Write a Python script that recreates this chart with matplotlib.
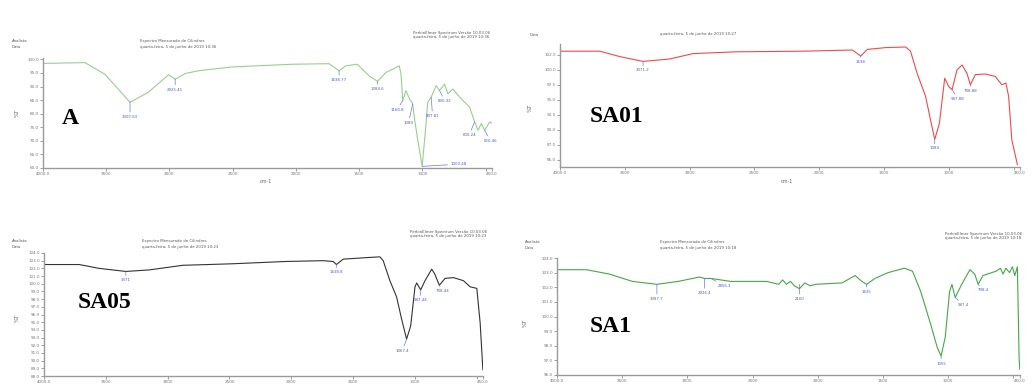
import matplotlib
matplotlib.use("Agg")
import matplotlib.pyplot as plt

W, H = 1032, 385

# ---------- data ----------
# panel A
a_wn = [4000, 3669, 3510, 3312, 3167, 3008, 2955, 2875, 2770, 2508, 2032, 1738, 1659,
        1606, 1516, 1476, 1421, 1355, 1288, 1183, 1169, 1156, 1130, 1103, 1077, 1063,
        1037, 1002, 976, 958, 931, 891, 865, 825, 799, 759, 706, 627, 587, 561, 534,
        508, 468, 450]
a_t = [98.5, 98.8, 94.5, 84.2, 87.9, 94.3, 92.7, 94.8, 95.8, 97.2, 98.2, 98.4, 95.8,
       97.6, 98.2, 96.4, 93.9, 91.9, 95.2, 97.6, 94.5, 84.8, 88.5, 85.5, 83.6, 78.2,
       70.3, 60.6, 73.9, 84.2, 86.1, 90.3, 88.5, 90.9, 87.3, 89.1, 86.1, 82.4, 77.0,
       73.9, 76.4, 73.9, 77.0, 76.5]
a_peaks = [(3312, 84.2, "3307.63", 0, -9), (2955, 92.7, "2925.41", 0, -6),
           (1659, 95.8, "1638.77", 0, -5), (1355, 91.9, "1384.6", 0, -4),
           (1156, 84.8, "1160.8", -4, -5), (1077, 83.6, "1080", -3, -12),
           (931, 86.1, "897.81", 1, -12), (865, 88.5, "830.32", 4, -6),
           (1002, 60.6, "1000.48", 26, 3), (587, 77.0, "600.24", -4, -8),
           (508, 73.9, "520.46", 4, -6)]

# panel SA01
s01_wn = [4000, 3692, 3538, 3359, 3154, 2974, 2641, 2128, 1744, 1679, 1628, 1487,
          1333, 1295, 1244, 1179, 1141, 1108, 1072, 1031, 1000, 974, 936, 897, 859,
          833, 795, 718, 641, 590, 559, 538, 513, 470]
s01_t = [103.1, 103.1, 102.2, 101.4, 101.8, 102.7, 103.0, 103.1, 103.3, 102.3, 103.4,
         103.7, 103.8, 103.1, 99.4, 95.6, 91.7, 88.4, 91.1, 98.6, 97.2, 96.7, 100.0,
         100.8, 99.4, 97.5, 99.2, 99.3, 98.9, 97.5, 97.8, 95.6, 88.3, 84.2]
s01_peaks = [(3359, 101.4, "3371.2", 0, -5), (1679, 102.3, "1638", 0, -3),
             (1108, 88.4, "1084", 0, -5), (974, 96.7, "947.88", 4, -5),
             (833, 97.5, "798.88", 0, -3)]

# panel SA05
s05_wn = [4000, 3716, 3554, 3338, 3149, 2878, 2473, 2041, 1743, 1662, 1635, 1581,
          1392, 1284, 1257, 1203, 1149, 1108, 1068, 1035, 1000, 986, 954, 919, 865,
          841, 803, 757, 689, 608, 554, 500, 473, 451]
s05_t = [102.5, 102.5, 102.0, 101.6, 101.8, 102.4, 102.6, 102.9, 103.0, 102.9, 102.5,
         103.2, 103.4, 103.5, 103.0, 100.4, 98.3, 95.4, 92.8, 94.5, 99.6, 100.1, 99.2,
         100.4, 101.9, 101.3, 99.8, 100.7, 100.8, 100.4, 99.6, 99.4, 94.9, 88.8]
s05_peaks = [(3338, 101.6, "3371", 0, -5), (1635, 102.5, "1638.8", 0, -4),
             (1068, 92.8, "1067.4", -3, -7), (954, 99.2, "947.44", 0, -6),
             (803, 99.8, "798.44", 2, -3)]

# panel SA1
s1_wn = [4000, 3962, 3774, 3598, 3422, 3234, 3070, 2907, 2869, 2819, 2668, 2392, 2300,
         2270, 2241, 2210, 2180, 2141, 2100, 2060, 2015, 1814, 1714, 1663, 1626, 1563,
         1462, 1337, 1274, 1211, 1136, 1085, 1055, 1023, 990, 972, 947, 897, 834, 797,
         771, 734, 633, 600, 580, 558, 530, 508, 490, 470, 457, 452]
s1_t = [103.2, 103.2, 103.2, 102.9, 102.4, 102.2, 102.4, 102.7, 102.6, 102.6, 102.4,
        102.4, 102.2, 102.5, 102.2, 102.4, 102.1, 101.9, 102.3, 102.1, 102.2, 102.3,
        102.8, 102.4, 102.2, 102.6, 103.0, 103.3, 103.1, 101.7, 99.5, 97.9, 97.3, 98.6,
        101.7, 102.2, 101.3, 102.2, 103.2, 102.9, 102.2, 102.8, 103.1, 103.3, 102.9,
        103.3, 103.0, 103.4, 102.8, 103.4, 97.2, 96.4]
s1_peaks = [(3234, 102.2, "3387.7", 0, -9), (2869, 102.6, "2926.4", 0, -9),
            (2819, 102.6, "2856.3", 10, -4), (2141, 102.2, "2160", 0, -9),
            (1626, 102.2, "1635", 0, -4), (1055, 97.3, "1055", 0, -4),
            (947, 101.3, "947.4", 6, -4), (771, 102.2, "798.4", 4, -3)]

x_ticks = [4000, 3500, 3000, 2500, 2000, 1500, 1000, 500, 450]
x_labels = ["4000.0", "3500", "3000", "2500", "2000", "1500", "1000", "", "450.0"]

fig = plt.figure(figsize=(W / 100, H / 100), dpi=100)
fig.patch.set_facecolor("white")


def fx(x):
    return x / W


def fy(y):
    return 1 - y / H


def panel(box, wn, t, color, ylim, yticks, peaks, lw=0.8):
    left, top, right, bottom = box
    ax = fig.add_axes([fx(left), fy(bottom), (right - left) / W, (bottom - top) / H])
    ax.plot(wn, t, color=color, lw=lw)
    ax.set_xlim(4000, 450)
    ax.set_ylim(*ylim)
    ax.set_xticks(x_ticks)
    ax.set_xticklabels(x_labels)
    ax.set_yticks(yticks)
    ax.set_yticklabels(["%.1f" % v for v in yticks])
    for s in ("top", "right"):
        ax.spines[s].set_visible(False)
    for s in ("left", "bottom"):
        ax.spines[s].set_color("#9a9a9a")
        ax.spines[s].set_linewidth(1.0)
    ax.tick_params(labelsize=3, colors="#777777", length=2, width=0.5, pad=1)
    for wx, wy, lab, dx, dy in peaks:
        ax.annotate(lab, xy=(wx, wy), xytext=(dx, dy), textcoords="offset points",
                    fontsize=2.8, color="#4a55e8", ha="center", va="top",
                    arrowprops=dict(arrowstyle="-", color="#6a74f0", lw=0.5,
                                    shrinkA=0, shrinkB=0))
    return ax


def header(x0, y0, xmid, xr, yr, date):
    kw = dict(fontsize=2.8, color="#555555", ha="left", va="center")
    fig.text(fx(x0), fy(y0), "Analista", **kw)
    fig.text(fx(x0), fy(y0 + 6), "Data", **kw)
    fig.text(fx(xmid), fy(y0), "Espectro Mensurado de Cilindros", **kw)
    fig.text(fx(xmid), fy(y0 + 6), "quarta-feira, 5 de junho de 2019 " + date, **kw)
    fig.text(fx(xr), fy(yr), "PerkinElmer Spectrum Versão 10.03.06", **kw)
    fig.text(fx(xr), fy(yr + 4), "quarta-feira, 5 de junho de 2019 " + date, **kw)


# ---------- A ----------
panel((43, 58, 492, 168), a_wn, a_t, "#98cf8f", (60, 100.5),
      [60, 65, 70, 75, 80, 85, 90, 95, 100], a_peaks)
header(12, 41, 140, 413, 33, "10:36")
fig.text(fx(17), fy(113), "%T", fontsize=4, color="#666666", rotation=90,
         ha="center", va="center")
fig.text(fx(266), fy(182), "cm-1", fontsize=3.5, color="#666666", ha="center", va="center")
fig.text(fx(62), fy(118), "A", fontsize=17, fontweight="bold", family="Liberation Serif",
         ha="left", va="center")

# ---------- SA01 ----------
panel((560, 44, 1020, 167), s01_wn, s01_t, "#f04a4a", (83.8, 104.3),
      [85, 87.5, 90, 92.5, 95, 97.5, 100, 102.5], s01_peaks)
fig.text(fx(530), fy(35), "Data", fontsize=2.8, color="#555555", ha="left", va="center")
fig.text(fx(660), fy(34), "quarta-feira, 5 de junho de 2019 10:27", fontsize=2.8,
         color="#555555", ha="left", va="center")
fig.text(fx(530), fy(108), "%T", fontsize=4, color="#666666", rotation=90,
         ha="center", va="center")
fig.text(fx(787), fy(182), "cm-1", fontsize=3.5, color="#666666", ha="center", va="center")
fig.text(fx(590), fy(117), "SA01", fontsize=17, fontweight="bold", family="Liberation Serif",
         ha="left", va="center")

# ---------- SA05 ----------
panel((44, 253, 483, 376), s05_wn, s05_t, "#333333", (88, 104),
      list(range(88, 105)), s05_peaks)
header(12, 241, 142, 410, 232, "10:23")
fig.text(fx(17), fy(318), "%T", fontsize=4, color="#666666", rotation=90,
         ha="center", va="center")
fig.text(fx(78), fy(303), "SA05", fontsize=17, fontweight="bold", family="Liberation Serif",
         ha="left", va="center")

# ---------- SA1 ----------
panel((557, 258, 1020, 375), s1_wn, s1_t, "#45a845", (96, 104),
      [96, 97, 98, 99, 100, 101, 102, 103, 104], s1_peaks)
header(525, 242, 660, 945, 234, "10:18")
fig.text(fx(525), fy(323), "%T", fontsize=4, color="#666666", rotation=90,
         ha="center", va="center")
fig.text(fx(590), fy(327), "SA1", fontsize=17, fontweight="bold", family="Liberation Serif",
         ha="left", va="center")

fig.savefig("out.png", dpi=100, facecolor="white")
